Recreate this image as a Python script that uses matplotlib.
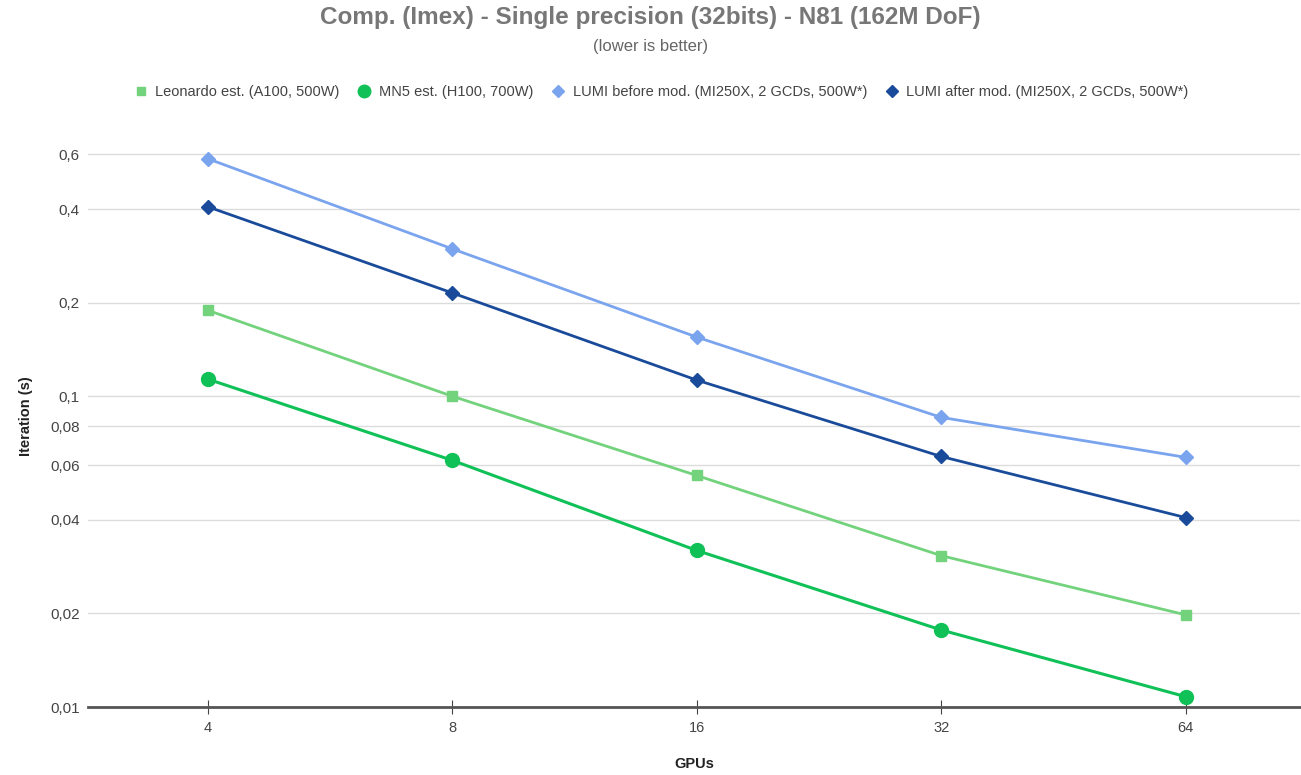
import numpy as np
import matplotlib.pyplot as plt

plt.rcParams['font.family'] = ['Liberation Sans', 'DejaVu Sans']

# data
gpus = ['4', '8', '16', '32', '64']
leonardo = [0.189, 0.100, 0.0556, 0.0307, 0.0198]
mn5 = [0.1135, 0.0622, 0.0319, 0.0177, 0.0108]
lumi_before = [0.581, 0.298, 0.155, 0.0855, 0.0636]
lumi_after = [0.407, 0.215, 0.1127, 0.064, 0.0407]

ytick_vals = [0.01, 0.02, 0.04, 0.06, 0.08, 0.1, 0.2, 0.4, 0.6]
ytick_labels = ['0,01', '0,02', '0,04', '0,06', '0,08', '0,1', '0,2', '0,4', '0,6']

labels = ['Leonardo est. (A100, 500W)', 'MN5 est. (H100, 700W)',
          'LUMI before mod. (MI250X, 2 GCDs, 500W*)',
          'LUMI after mod. (MI250X, 2 GCDs, 500W*)']

fig = plt.figure(figsize=(13.01, 7.75), dpi=100)
ax = fig.add_axes([0.0676, 0.0877, 0.932, 0.752])

x = np.arange(len(gpus))
ax.plot(x, leonardo, color='#72d37c', marker='s', markersize=7, lw=2, label=labels[0])
ax.plot(x, mn5, color='#10c157', marker='o', markersize=10, lw=2.2, label=labels[1])
ax.plot(x, lumi_before, color='#7aa4ee', marker='D', markersize=7, lw=2, label=labels[2])
ax.plot(x, lumi_after, color='#1a4b9a', marker='D', markersize=7, lw=2, label=labels[3])

ax.set_yscale('log')
ax.set_ylim(0.01, 0.75)
ax.set_xlim(-0.49, 4.47)
ax.set_yticks(ytick_vals)
ax.set_yticklabels(ytick_labels)
ax.minorticks_off()
ax.set_xticks(x)
ax.set_xticklabels(gpus)

ax.grid(axis='y', color='#dcdcdc', lw=1)
ax.set_axisbelow(True)
for s in ['top', 'right', 'left']:
    ax.spines[s].set_visible(False)
ax.spines['bottom'].set_color('#555555')
ax.spines['bottom'].set_linewidth(2)
ax.tick_params(axis='y', length=0, labelsize=11, labelcolor='#444444', pad=6)
ax.tick_params(axis='x', direction='inout', length=10, color='#444444',
               labelsize=10.5, labelcolor='#444444', pad=5)

ax.set_xlabel('GPUs', fontsize=10.5, fontweight='bold', color='#222222', labelpad=16)
ax.set_ylabel('Iteration (s)', fontsize=10.5, fontweight='bold', color='#222222', labelpad=12)

fig.text(0.5, 0.977, 'Comp. (Imex) - Single precision (32bits) - N81 (162M DoF)',
         ha='center', va='center', fontsize=17.5, fontweight='bold', color='#777777')
fig.text(0.5, 0.94, '(lower is better)', ha='center', va='center',
         fontsize=12, color='#666666')

leg = fig.legend(loc='center', bbox_to_anchor=(0.508, 0.881), ncol=4, frameon=False,
                 fontsize=10.5, labelcolor='#444444', handlelength=1, handletextpad=0.5,
                 columnspacing=1.2, markerscale=0.9)
# hide legend lines, keep markers
for h in leg.legend_handles:
    h.set_linestyle('none')

fig.savefig('out.png', dpi=100)
